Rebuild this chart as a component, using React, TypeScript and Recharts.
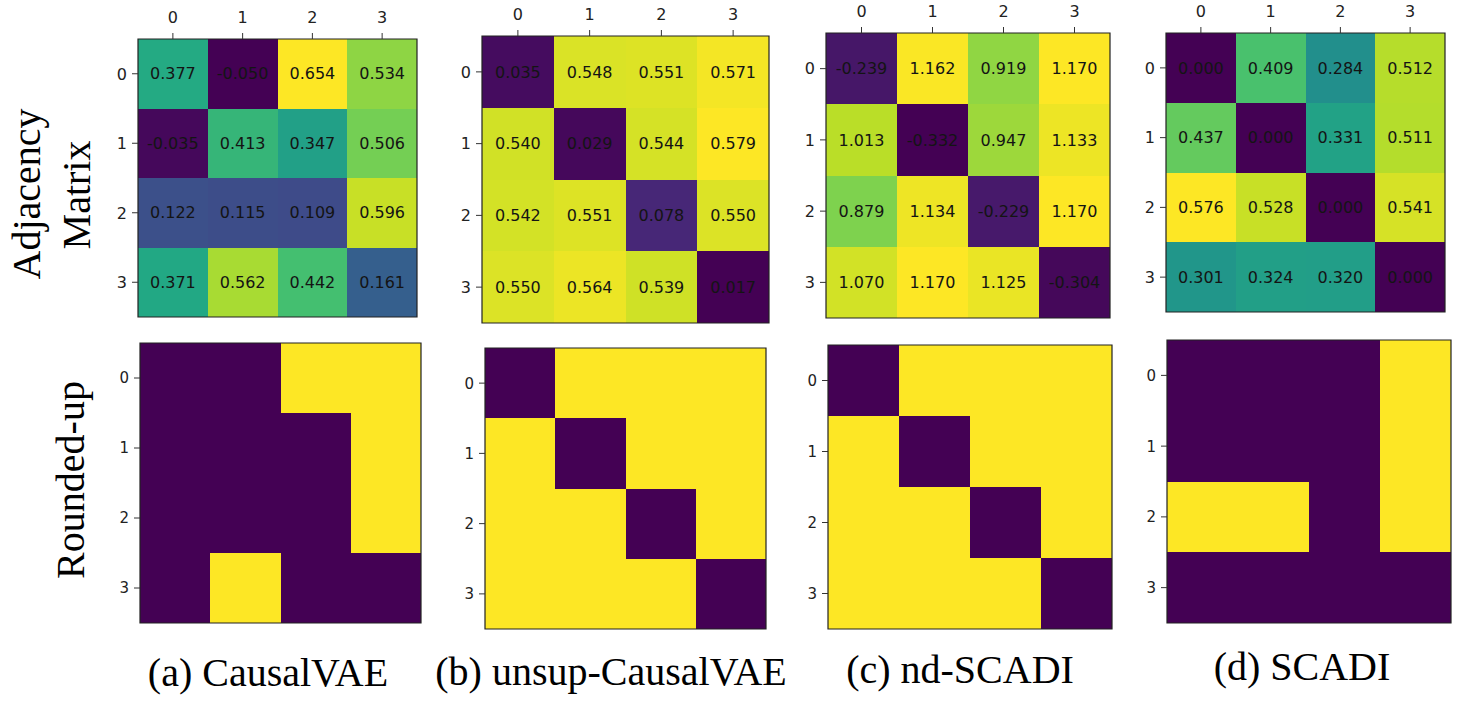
import React from 'react';
import { ScatterChart, Scatter, XAxis, YAxis, ReferenceArea } from 'recharts';

// ---------- data ----------
const indices = [0, 1, 2, 3];
const tickLabels = ['0', '1', '2', '3'];

const causalVAE = [
  [0.377, -0.05, 0.654, 0.534],
  [-0.035, 0.413, 0.347, 0.506],
  [0.122, 0.115, 0.109, 0.596],
  [0.371, 0.562, 0.442, 0.161],
];
const unsupCausalVAE = [
  [0.035, 0.548, 0.551, 0.571],
  [0.54, 0.029, 0.544, 0.579],
  [0.542, 0.551, 0.078, 0.55],
  [0.55, 0.564, 0.539, 0.017],
];
const ndSCADI = [
  [-0.239, 1.162, 0.919, 1.17],
  [1.013, -0.332, 0.947, 1.133],
  [0.879, 1.134, -0.229, 1.17],
  [1.07, 1.17, 1.125, -0.304],
];
const SCADI = [
  [0.0, 0.409, 0.284, 0.512],
  [0.437, 0.0, 0.331, 0.511],
  [0.576, 0.528, 0.0, 0.541],
  [0.301, 0.324, 0.32, 0.0],
];

const roundedCausalVAE = [
  [0, 0, 1, 1],
  [0, 0, 0, 1],
  [0, 0, 0, 1],
  [0, 1, 0, 0],
];
const roundedUnsupCausalVAE = [
  [0, 1, 1, 1],
  [1, 0, 1, 1],
  [1, 1, 0, 1],
  [1, 1, 1, 0],
];
const roundedNdSCADI = [
  [0, 1, 1, 1],
  [1, 0, 1, 1],
  [1, 1, 0, 1],
  [1, 1, 1, 0],
];
const roundedSCADI = [
  [0, 0, 0, 1],
  [0, 0, 0, 1],
  [1, 1, 0, 1],
  [0, 0, 0, 0],
];

const captions = ['(a) CausalVAE', '(b) unsup-CausalVAE', '(c) nd-SCADI', '(d) SCADI'];
const rowTitles = ['Adjacency', 'Matrix', 'Rounded-up'];

// ---------- viridis colormap ----------
const VIRIDIS = [
  '#440154', '#482475', '#414487', '#355f8d', '#2a788e', '#21918c',
  '#22a884', '#44bf70', '#7ad151', '#bddf26', '#fde725',
];
function hexToRgb(h: string) {
  return [parseInt(h.slice(1, 3), 16), parseInt(h.slice(3, 5), 16), parseInt(h.slice(5, 7), 16)];
}
function viridis(t: number) {
  const x = Math.max(0, Math.min(1, t)) * (VIRIDIS.length - 1);
  const i = Math.min(Math.floor(x), VIRIDIS.length - 2);
  const f = x - i;
  const a = hexToRgb(VIRIDIS[i]);
  const b = hexToRgb(VIRIDIS[i + 1]);
  const c = a.map((v, k) => Math.round(v + (b[k] - v) * f));
  return `rgb(${c[0]},${c[1]},${c[2]})`;
}

type Box = { x: number; y: number; w: number; h: number };

const SERIF = '"Liberation Serif", "Times New Roman", Times, serif';
const SANS = '"DejaVu Sans", sans-serif';

const fmt = (v: number) => tickLabels[v] ?? String(v);

function TopTick(props: any) {
  const { x, y, payload, fs } = props;
  return (
    <text x={x} y={y} textAnchor="middle" fill="#222" fontSize={fs} fontFamily={SANS}>
      {fmt(payload.value)}
    </text>
  );
}
function LeftTick(props: any) {
  const { x, y, payload, fs } = props;
  return (
    <text x={x} y={y} dy="0.36em" textAnchor="end" fill="#222" fontSize={fs} fontFamily={SANS}>
      {fmt(payload.value)}
    </text>
  );
}

function Heatmap({
  matrix,
  box,
  showValues,
  topLabels,
  tickFont,
}: {
  matrix: number[][];
  box: Box;
  showValues: boolean;
  topLabels: boolean;
  tickFont: number;
}) {
  const Ht = 34;
  const Hb = 16;
  const Yw = 40;
  const pad = 6;
  const cells: { r: number; c: number; v: number }[] = [];
  matrix.forEach((row, r) => row.forEach((v, c) => cells.push({ r, c, v })));
  const vals = cells.map((d) => d.v);
  const min = Math.min(...vals);
  const max = Math.max(...vals);
  const tickLineStyle = { stroke: '#333', strokeWidth: 1 };
  return (
    <div style={{ position: 'absolute', left: box.x - Yw - pad, top: box.y - Ht - pad }}>
      <ScatterChart
        width={box.w + Yw + 2 * pad}
        height={box.h + Ht + Hb + 2 * pad}
        margin={{ top: pad, right: pad, bottom: pad, left: pad }}
      >
        <XAxis
          xAxisId="top"
          orientation="top"
          type="number"
          dataKey="c"
          domain={[-0.5, 3.5]}
          ticks={indices}
          allowDataOverflow
          height={Ht}
          axisLine={false}
          tickSize={6}
          tickMargin={10}
          tickLine={tickLineStyle}
          tick={topLabels ? (p: any) => <TopTick {...p} fs={tickFont} /> : false}
        />
        <XAxis
          xAxisId="bottom"
          orientation="bottom"
          type="number"
          dataKey="c"
          domain={[-0.5, 3.5]}
          ticks={indices}
          allowDataOverflow
          height={Hb}
          axisLine={false}
          tickSize={6}
          tickLine={tickLineStyle}
          tick={false}
        />
        <YAxis
          yAxisId="left"
          type="number"
          dataKey="r"
          domain={[-0.5, 3.5]}
          ticks={indices}
          reversed
          allowDataOverflow
          width={Yw}
          axisLine={false}
          tickSize={6}
          tickMargin={5}
          tickLine={tickLineStyle}
          tick={(p: any) => <LeftTick {...p} fs={tickFont} />}
        />
        <Scatter
          xAxisId="top"
          yAxisId="left"
          data={cells}
          isAnimationActive={false}
          shape={() => <g />}
        />
        <Scatter
          xAxisId="bottom"
          yAxisId="left"
          data={cells}
          isAnimationActive={false}
          shape={() => <g />}
        />
        {cells.map((d, i) => {
          const col = viridis(max > min ? (d.v - min) / (max - min) : 0);
          return (
            <ReferenceArea
              key={i}
              xAxisId="top"
              yAxisId="left"
              x1={d.c - 0.5}
              x2={d.c + 0.5}
              y1={d.r - 0.5}
              y2={d.r + 0.5}
              fill={col}
              fillOpacity={1}
              stroke="none"
              shapeRendering="crispEdges"
              label={
                showValues
                  ? {
                      value: d.v.toFixed(3),
                      position: 'center',
                      fill: '#141414',
                      fontSize: 16,
                      fontFamily: SANS,
                    }
                  : undefined
              }
            />
          );
        })}
        <ReferenceArea
          xAxisId="top"
          yAxisId="left"
          x1={-0.5}
          x2={3.5}
          y1={-0.5}
          y2={3.5}
          fill="none"
          fillOpacity={0}
          stroke="#222"
          strokeWidth={1.2}
        />
      </ScatterChart>
    </div>
  );
}

const topMatrices = [causalVAE, unsupCausalVAE, ndSCADI, SCADI];
const bottomMatrices = [roundedCausalVAE, roundedUnsupCausalVAE, roundedNdSCADI, roundedSCADI];

const topBoxes: Box[] = [
  { x: 138, y: 39, w: 279, h: 278 },
  { x: 482, y: 36, w: 287, h: 287 },
  { x: 826, y: 33, w: 284, h: 285 },
  { x: 1166, y: 33, w: 279, h: 279 },
];
const bottomBoxes: Box[] = [
  { x: 140, y: 343, w: 281, h: 280 },
  { x: 485, y: 348, w: 281, h: 281 },
  { x: 828, y: 345, w: 284, h: 284 },
  { x: 1167, y: 340, w: 284, h: 283 },
];
const captionPos = [
  { x: 268, y: 686 },
  { x: 611, y: 685 },
  { x: 960, y: 683 },
  { x: 1302, y: 680 },
];

export default function App() {
  return (
    <div
      style={{
        position: 'absolute',
        left: 0,
        top: 0,
        width: 1467,
        height: 704,
        background: '#fff',
        overflow: 'hidden',
        fontFamily: SANS,
      }}
    >
      {topMatrices.map((m, i) => (
        <Heatmap key={'t' + i} matrix={m} box={topBoxes[i]} showValues topLabels tickFont={16} />
      ))}
      {bottomMatrices.map((m, i) => (
        <Heatmap
          key={'b' + i}
          matrix={m}
          box={bottomBoxes[i]}
          showValues={false}
          topLabels={false}
          tickFont={15}
        />
      ))}
      <svg
        width={1467}
        height={704}
        style={{ position: 'absolute', left: 0, top: 0, pointerEvents: 'none' }}
      >
        <g fill="#000" style={{ fontFamily: SERIF, fontSize: 40 }}>
          <text transform="translate(40,194) rotate(-90)" textAnchor="middle">
            {rowTitles[0]}
          </text>
          <text transform="translate(90,195) rotate(-90)" textAnchor="middle">
            {rowTitles[1]}
          </text>
          <text transform="translate(84,480) rotate(-90)" textAnchor="middle">
            {rowTitles[2]}
          </text>
          {captions.map((c, i) => (
            <text key={c} x={captionPos[i].x} y={captionPos[i].y} textAnchor="middle">
              {c}
            </text>
          ))}
        </g>
      </svg>
    </div>
  );
}
